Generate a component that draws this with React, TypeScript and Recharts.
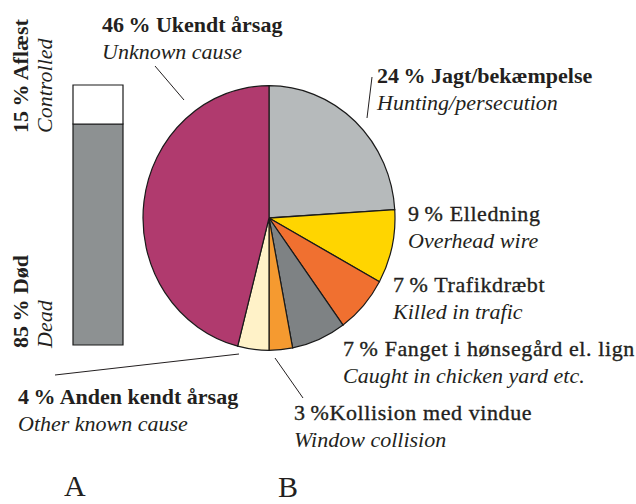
import { PieChart, Pie, Cell, BarChart, Bar, XAxis, YAxis } from "recharts";

// B: causes of death (clockwise from 12 o'clock)
const causeNames = [
  "Jagt/bekæmpelse",
  "Elledning",
  "Trafikdræbt",
  "Fanget i hønsegård el. lign",
  "Kollision med vindue",
  "Anden kendt årsag",
  "Ukendt årsag",
];
const causeNamesEn = [
  "Hunting/persecution",
  "Overhead wire",
  "Killed in trafic",
  "Caught in chicken yard etc.",
  "Window collision",
  "Other known cause",
  "Unknown cause",
];
const causeShares = [24, 9, 7, 7, 3, 4, 46];
const causeColors = ["#b6babb", "#ffd500", "#f07030", "#7e8284", "#f59a30", "#fff2c8", "#b03a6e"];

// A: status of the recovered birds
const statusNames = ["Død", "Aflæst"];
const statusNamesEn = ["Dead", "Controlled"];
const statusShares = [85, 15];

const FONT = "'Liberation Serif', 'Times New Roman', serif";
const INK = "#231f20";

// label placement per cause (baseline of first line), leader line if any
const labelPos = [
  { x: 377, y: 83, bold: true, sep: " ", line: [372, 77, 367, 118] },
  { x: 408, y: 221, bold: false, sep: " " },
  { x: 393, y: 292, bold: false, sep: " " },
  { x: 343, y: 356, bold: false, sep: " " },
  { x: 294, y: 420, bold: false, sep: "", line: [275, 358, 303, 398] },
  { x: 18, y: 404, bold: true, sep: " ", line: [55, 375, 239, 354] },
  { x: 102, y: 32, bold: true, sep: " ", line: [155, 66, 184, 100] },
];

const txt = { fontFamily: FONT, fill: INK, fontSize: 22 };
// the right-hand labels are set in a semibold cut in the print
const semi = { stroke: INK, strokeWidth: 0.35, letterSpacing: 0.6 };

export default function App() {
  const pieData = causeNames.map((name, i) => ({ name, value: causeShares[i] }));
  const barData = [{ name: "A", dead: statusShares[0], controlled: statusShares[1] }];

  return (
    <div style={{ position: "absolute", left: 0, top: 0, width: 636, height: 504, background: "#fff" }}>
      {/* A: stacked column */}
      <div style={{ position: "absolute", left: 72, top: 84 }}>
        <BarChart width={52} height={262} data={barData} margin={{ top: 1, right: 1, bottom: 1, left: 1 }} barCategoryGap={0}>
          <XAxis dataKey="name" hide />
          <YAxis hide domain={[0, 100]} />
          <Bar dataKey="dead" stackId="s" fill="#8d9192" stroke="#1a1a1a" strokeWidth={1.2} isAnimationActive={false} />
          <Bar dataKey="controlled" stackId="s" fill="#ffffff" stroke="#1a1a1a" strokeWidth={1.2} isAnimationActive={false} />
        </BarChart>
      </div>

      {/* B: pie, slightly taller than wide as in the print */}
      <div style={{ position: "absolute", left: 0, top: 0, transform: "scaleY(1.05)", transformOrigin: "269px 218px" }}>
        <PieChart width={636} height={504} margin={{ top: 0, right: 0, bottom: 0, left: 0 }}>
          <Pie
            data={pieData}
            dataKey="value"
            cx={269}
            cy={218}
            outerRadius={126}
            startAngle={90}
            endAngle={-270}
            stroke="#1a1a1a"
            strokeWidth={1.2}
            isAnimationActive={false}
          >
            {pieData.map((d, i) => (
              <Cell key={d.name} fill={causeColors[i]} />
            ))}
          </Pie>
        </PieChart>
      </div>

      {/* texts */}
      <svg width={636} height={504} style={{ position: "absolute", left: 0, top: 0 }}>
        {labelPos.map((p, i) => (
          <g key={causeNames[i]}>
            {p.line && (
              <line x1={p.line[0]} y1={p.line[1]} x2={p.line[2]} y2={p.line[3]} stroke={INK} strokeWidth={1} />
            )}
            <text x={p.x} y={p.y} style={p.bold ? { ...txt, fontWeight: 700 } : { ...txt, ...semi }}>
              {`${causeShares[i]}\u202F%${p.sep}${causeNames[i]}`}
            </text>
            <text x={p.x} y={p.y + 27} style={{ ...txt, fontStyle: "italic" }}>
              {causeNamesEn[i]}
            </text>
          </g>
        ))}

        <g transform="translate(28,133) rotate(-90)">
          <text style={{ ...txt, fontWeight: 700 }}>{`${statusShares[1]}\u202F% ${statusNames[1]}`}</text>
        </g>
        <g transform="translate(52,133) rotate(-90)">
          <text style={{ ...txt, fontStyle: "italic" }}>{statusNamesEn[1]}</text>
        </g>
        <g transform="translate(28,348) rotate(-90)">
          <text style={{ ...txt, fontWeight: 700 }}>{`${statusShares[0]}\u202F% ${statusNames[0]}`}</text>
        </g>
        <g transform="translate(52,348) rotate(-90)">
          <text style={{ ...txt, fontStyle: "italic" }}>{statusNamesEn[0]}</text>
        </g>

        <text x={64} y={496} style={{ ...txt, fontSize: 30 }}>A</text>
        <text x={278} y={497} style={{ ...txt, fontSize: 30 }}>B</text>
      </svg>
    </div>
  );
}
